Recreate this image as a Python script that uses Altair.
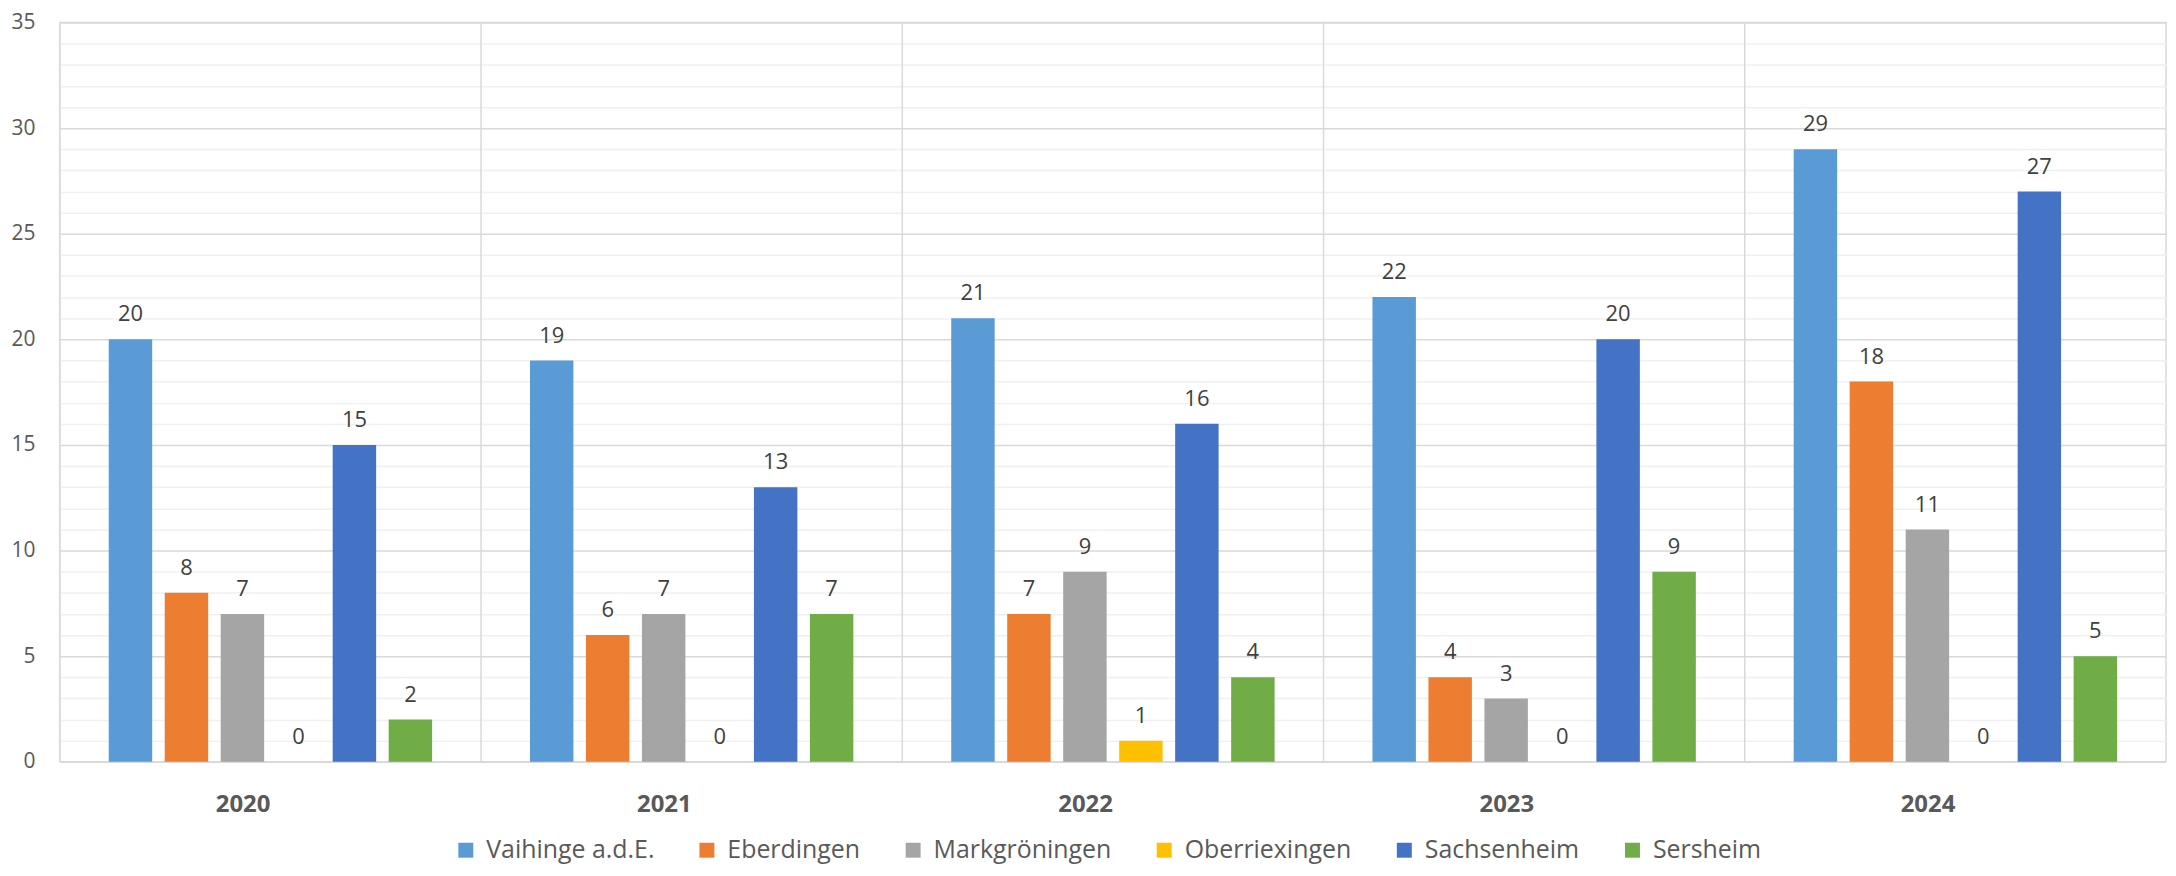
import altair as alt
import pandas as pd

years = ["2020", "2021", "2022", "2023", "2024"]
series = ["Vaihinge a.d.E.", "Eberdingen", "Markgröningen", "Oberriexingen", "Sachsenheim", "Sersheim"]
colors = ["#5B9BD5", "#ED7D31", "#A5A5A5", "#FFC000", "#4472C4", "#70AD47"]

vaihingen = [20, 19, 21, 22, 29]
eberdingen = [8, 6, 7, 4, 18]
markgroeningen = [7, 7, 9, 3, 11]
oberriexingen = [0, 0, 1, 0, 0]
sachsenheim = [15, 13, 16, 20, 27]
sersheim = [2, 7, 4, 9, 5]

y_ticks = list(range(0, 36))

all_vals = [vaihingen, eberdingen, markgroeningen, oberriexingen, sachsenheim, sersheim]
rows = []
for s, vals in zip(series, all_vals):
    for y, v in zip(years, vals):
        rows.append({"Jahr": y, "Ort": s, "Wert": v})
df = pd.DataFrame(rows)
df_years = pd.DataFrame({"Jahr": years})

FONT = "Open Sans"
TXT = "#595959"

x_enc = alt.X("Jahr:N", sort=years,
              scale=alt.Scale(paddingInner=0, paddingOuter=0),
              axis=alt.Axis(title=None, labelFont=FONT, labelFontSize=24, labelFontWeight="bold",
                            labelColor=TXT, labelPadding=43, ticks=False, domain=False,
                            grid=False, labelAngle=0))
y_enc = alt.Y("Wert:Q", scale=alt.Scale(domain=[0, 35], nice=False, zero=True),
              axis=alt.Axis(title=None, values=y_ticks, tickCount=36, ticks=False, domain=False,
                            labelExpr="datum.value % 5 === 0 ? datum.label : ''",
                            labelOverlap=False, labelBound=False,
                            labelFont=FONT, labelFontSize=21, labelColor=TXT, labelPadding=25,
                            grid=True,
                            gridColor=alt.condition("datum.value % 5 === 0", alt.value("#d9d9d9"), alt.value("#f0f0f0")),
                            gridWidth=1.5))
xoff = alt.XOffset("Ort:N", sort=series, scale=alt.Scale(paddingInner=0.224, paddingOuter=0.874))

bars = alt.Chart(df).mark_bar().encode(
    x=x_enc, y=y_enc, xOffset=xoff,
    color=alt.Color("Ort:N", sort=series, scale=alt.Scale(domain=series, range=colors),
                    legend=alt.Legend(title=None, orient="none", direction="horizontal",
                                      legendX=395, legendY=818, symbolType="square",
                                      symbolSize=225, symbolStrokeWidth=0,
                                      labelFont=FONT, labelFontSize=25, labelColor=TXT,
                                      columnPadding=40, labelOffset=8, labelLimit=400)),
)

labels = alt.Chart(df).mark_text(font=FONT, fontSize=22, color="#404040", dy=-25, baseline="middle").encode(
    x=x_enc, y=y_enc, xOffset=xoff, text=alt.Text("Wert:Q"),
)

seps = alt.Chart(df_years).mark_rule(color="#d9d9d9", strokeWidth=1.5).encode(
    x=alt.X("Jahr:N", sort=years, bandPosition=0),
)

chart = alt.layer(seps, bars, labels).properties(
    width=2114, height=742,
    autosize=alt.AutoSizeParams(type="none"),
    padding={"left": 52, "top": 13, "right": 2, "bottom": 105},
).configure_view(stroke="#d9d9d9", strokeWidth=1.5)

chart.save("out.html", embed_options={"renderer": "svg", "actions": False})
